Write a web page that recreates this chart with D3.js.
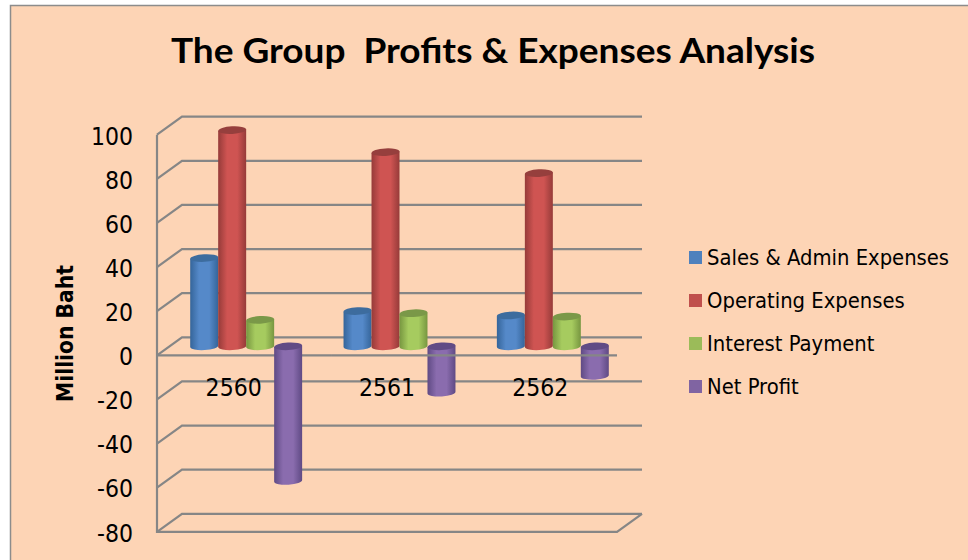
<!DOCTYPE html>
<html>
<head>
<meta charset="utf-8">
<style>
    html, body { margin: 0; padding: 0; background: #fff; }
    svg { display: block; }
    .plain { font-family: "DejaVu Sans Condensed", "DejaVu Sans", sans-serif; font-stretch: condensed; fill: #000; }
</style>
</head>
<body>
<svg id="chart" width="968" height="560"></svg>

<script src="https://d3js.org/d3.v7.min.js"></script>
<script>
    var years = ["2560", "2561", "2562"]
    var seriesNames = ["Sales & Admin Expenses", "Operating Expenses", "Interest Payment", "Net Profit"]
    var salesAdmin = [40, 16, 14]
    var operating = [98, 88, 78.5]
    var interest = [12, 15, 13.5]
    var netProfit = [-61, -21, -13.4]
    var yTicks = [-80, -60, -40, -20, 0, 20, 40, 60, 80, 100]

    var seriesValues = [salesAdmin, operating, interest, netProfit]
    var colors = ["#4f81bd", "#c0504d", "#9bbb59", "#8064a2"]
    var edges = ["#35659a", "#963b39", "#779640", "#5f4a84"]
    var tops = ["#3d6c9e", "#963f3d", "#7a9848", "#614b85"]
    var lights = ["#5589c9", "#cf5452", "#a6cb5f", "#8a6cae"]

    var svg = d3.select("#chart")
    var gridColor = "#868686"

    // wall depth of the fake 3d box
    var depthX = 25, depthY = -18
    var left = 157, right = 617

    var y = d3.scaleLinear().domain([-80, 100]).range([531.8, 134.7])
    var x0 = d3.scaleBand().domain(years).range([left, right]).paddingInner(0.27).paddingOuter(0.135)
    var x1 = d3.scaleBand().domain(d3.range(seriesNames.length)).range([0, x0.bandwidth()])

    svg.append("rect").attr("x", 10.5).attr("y", 5.5).attr("width", 970).attr("height", 570)
        .attr("fill", "#fdd4b5").attr("stroke", "#8c8c8c").attr("stroke-width", 1.5)

    svg.append("text").attr("x", 493).attr("y", 63).attr("text-anchor", "middle")
        .attr("textLength", 644).attr("lengthAdjust", "spacingAndGlyphs")
        .style("font-family", "Lato, sans-serif").style("font-weight", 700).style("font-size", "35px")
        .style("white-space", "pre")
        .text("The Group  Profits & Expenses Analysis")

    // back wall lines
    var gridPath = function(t) {
        return "M" + left + "," + y(t) + "L" + (left + depthX) + "," + (y(t) + depthY) + "L" + (right + depthX) + "," + (y(t) + depthY)
    }
    var grid = svg.append("g").attr("fill", "none").attr("stroke", gridColor).attr("stroke-width", 2.2)
    grid.selectAll(".wall").data(yTicks).enter().append("path").attr("class", "wall").attr("d", gridPath)
    grid.append("path").attr("d", "M" + left + "," + y(100) + "V" + y(-80) + "H" + right + "L" + (right + depthX) + "," + (y(-80) + depthY))
    grid.append("path").attr("d", "M" + left + "," + y(0) + "H" + x0(years[1]))

    var defs = svg.append("defs")
    colors.forEach(function(c, i) {
        var g = defs.append("linearGradient").attr("id", "cyl" + i)
        g.append("stop").attr("offset", "0%").attr("stop-color", edges[i])
        g.append("stop").attr("offset", "32%").attr("stop-color", lights[i])
        g.append("stop").attr("offset", "68%").attr("stop-color", lights[i])
        g.append("stop").attr("offset", "100%").attr("stop-color", edges[i])
    })

    // cylinders stand half way into the floor, slightly tilted
    var midX = depthX / 2, midY = depthY / 2
    var ry = 3.8, tilt = 0.8

    var bars = []
    seriesValues.forEach(function(vals, s) {
        vals.forEach(function(v, c) { bars.push({ s: s, year: years[c], v: v }) })
    })

    var bar = svg.append("g").selectAll("g").data(bars).enter().append("g")
        .attr("transform", function(d) {
            return "translate(" + (x0(d.year) + x1(d.s) + midX) + "," + midY + ")"
        })

    bar.append("path")
        .attr("fill", function(d) { return "url(#cyl" + d.s + ")" })
        .attr("d", function(d) {
            var w = x1.bandwidth(), a = y(Math.max(d.v, 0)), b = y(Math.min(d.v, 0))
            return "M0," + (a + tilt) + "V" + (b + tilt) + "A" + w / 2 + "," + ry + " -3 0 0 " + w + "," + (b - tilt) + "V" + (a - tilt) + "Z"
        })
    bar.append("ellipse")
        .attr("rx", x1.bandwidth() / 2).attr("ry", ry)
        .attr("transform", function(d) {
            return "translate(" + x1.bandwidth() / 2 + "," + y(Math.max(d.v, 0)) + ") rotate(-3)"
        })
        .attr("fill", function(d) { return tops[d.s] })

    // the floor front edge shows through the later purple bars
    svg.append("path").attr("fill", "none").attr("stroke", gridColor).attr("stroke-width", 2.2)
        .attr("d", "M" + x0(years[1]) + "," + y(0) + "H" + right)

    // tick labels
    var axis = d3.axisLeft(y).tickValues(yTicks).tickSize(0).tickPadding(0).tickFormat(function(d) { return String(d) })
    var axisG = svg.append("g").attr("transform", "translate(133,0)").call(axis)
    axisG.select(".domain").remove()
    axisG.selectAll("text").attr("class", "plain").style("font-size", "24.5px").attr("dy", "0.38em")

    var xAxis = d3.axisBottom(x0).tickSize(0).tickPadding(0)
    var xG = svg.append("g").attr("transform", "translate(0,379)").call(xAxis)
    xG.select(".domain").remove()
    xG.selectAll("text").attr("class", "plain").style("font-size", "24.5px")

    svg.append("text")
        .attr("transform", "translate(73,333.5) rotate(-90)").attr("text-anchor", "middle")
        .style("font-family", "'DejaVu Sans Condensed', 'DejaVu Sans', sans-serif").style("font-stretch", "condensed")
        .style("font-weight", 700).style("font-size", "22.6px")
        .text("Million Baht")

    // legend
    var legend = svg.append("g").selectAll("g").data(seriesNames).enter().append("g")
        .attr("transform", function(d, i) { return "translate(689," + (251 + i * 43) + ")" })
    legend.append("rect").attr("width", 13).attr("height", 13).attr("fill", function(d, i) { return colors[i] })
    legend.append("text").attr("class", "plain").attr("x", 18).attr("y", 14)
        .style("font-size", "21.8px").text(function(d) { return d })
</script>
</body>
</html>
